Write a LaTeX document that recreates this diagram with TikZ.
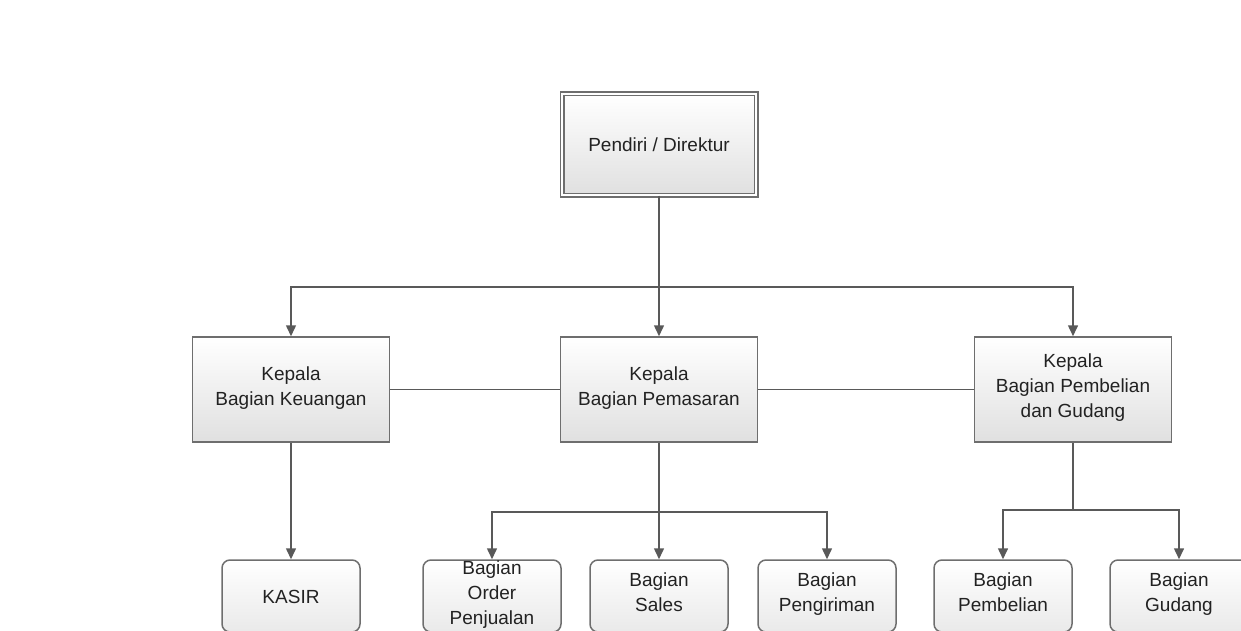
\documentclass[tikz,border=0pt]{standalone}
\usepackage{fontspec}
\setmainfont{Liberation Sans}
\usetikzlibrary{arrows.meta}
\definecolor{edgegray}{HTML}{6E6E6E}
\definecolor{linegray}{HTML}{595959}
\definecolor{txtgray}{HTML}{222222}
\definecolor{boxbot}{HTML}{E0E0E0}
\tikzset{
  every node/.style={font=\fontsize{19}{25}\selectfont, text=txtgray, align=center, inner sep=0pt,
    execute at begin node=\rule{0pt}{21.5pt}, execute at end node=\strut},
  headbox/.style={draw=edgegray, line width=1.5pt, top color=white, bottom color=boxbot,
    minimum width=197pt, minimum height=105pt},
  dirbox/.style={draw=edgegray, line width=1.3pt, double=white, double distance=2.4pt,
    top color=white, bottom color=boxbot, minimum width=194pt, minimum height=101pt},
  unitbox/.style={draw=edgegray, line width=1.5pt, rounded corners=8pt, top color=white,
    bottom color=boxbot!70, minimum width=138pt, minimum height=72pt},
  link/.style={draw=linegray, line width=1.5pt},
  arr/.style={link, -{Triangle[width=10pt,length=11pt]}}
}
\begin{document}
\begin{tikzpicture}[x=1pt,y=-1pt]
\useasboundingbox (0,0) rectangle (1241,631);
% nodes
\node[dirbox]  (dir)   at (659,144.5) {Pendiri / Direktur};
\node[headbox] (keu)   at (291,389.5) {Kepala\\Bagian Keuangan};
\node[headbox] (pem)   at (659,389.5) {Kepala\\Bagian Pemasaran};
\node[headbox] (pg)    at (1073,389.5) {Kepala\\Bagian Pembelian\\dan Gudang};
\node[unitbox] (kasir) at (291,596) {KASIR};
\node[unitbox] (order) at (492,596) {Bagian\\Order\\Penjualan};
\node[unitbox] (sales) at (659,596) {Bagian\\Sales};
\node[unitbox] (kirim) at (827,596) {Bagian\\Pengiriman};
\node[unitbox] (beli)  at (1003,596) {Bagian\\Pembelian};
\node[unitbox] (gud)   at (1179,596) {Bagian\\Gudang};
% junction coordinates
\coordinate (hl) at (659,287);
\coordinate (b1) at (659,512);
\coordinate (b2) at (1073,510);
% connectors
\draw[arr] (dir.south) -- (pem.north);
\draw[arr] (hl) -| (keu.north);
\draw[arr] (hl) -| (pg.north);
\draw[link] (keu.east) -- (pem.west);
\draw[link] (pem.east) -- (pg.west);
\draw[arr] (keu.south) -- (kasir.north);
\draw[link] (pem.south) -- (b1);
\draw[arr] (b1) -| (order.north);
\draw[arr] (b1) -- (sales.north);
\draw[arr] (b1) -| (kirim.north);
\draw[link] (pg.south) -- (b2);
\draw[arr] (b2) -| (beli.north);
\draw[arr] (b2) -| (gud.north);
\end{tikzpicture}
\end{document}
